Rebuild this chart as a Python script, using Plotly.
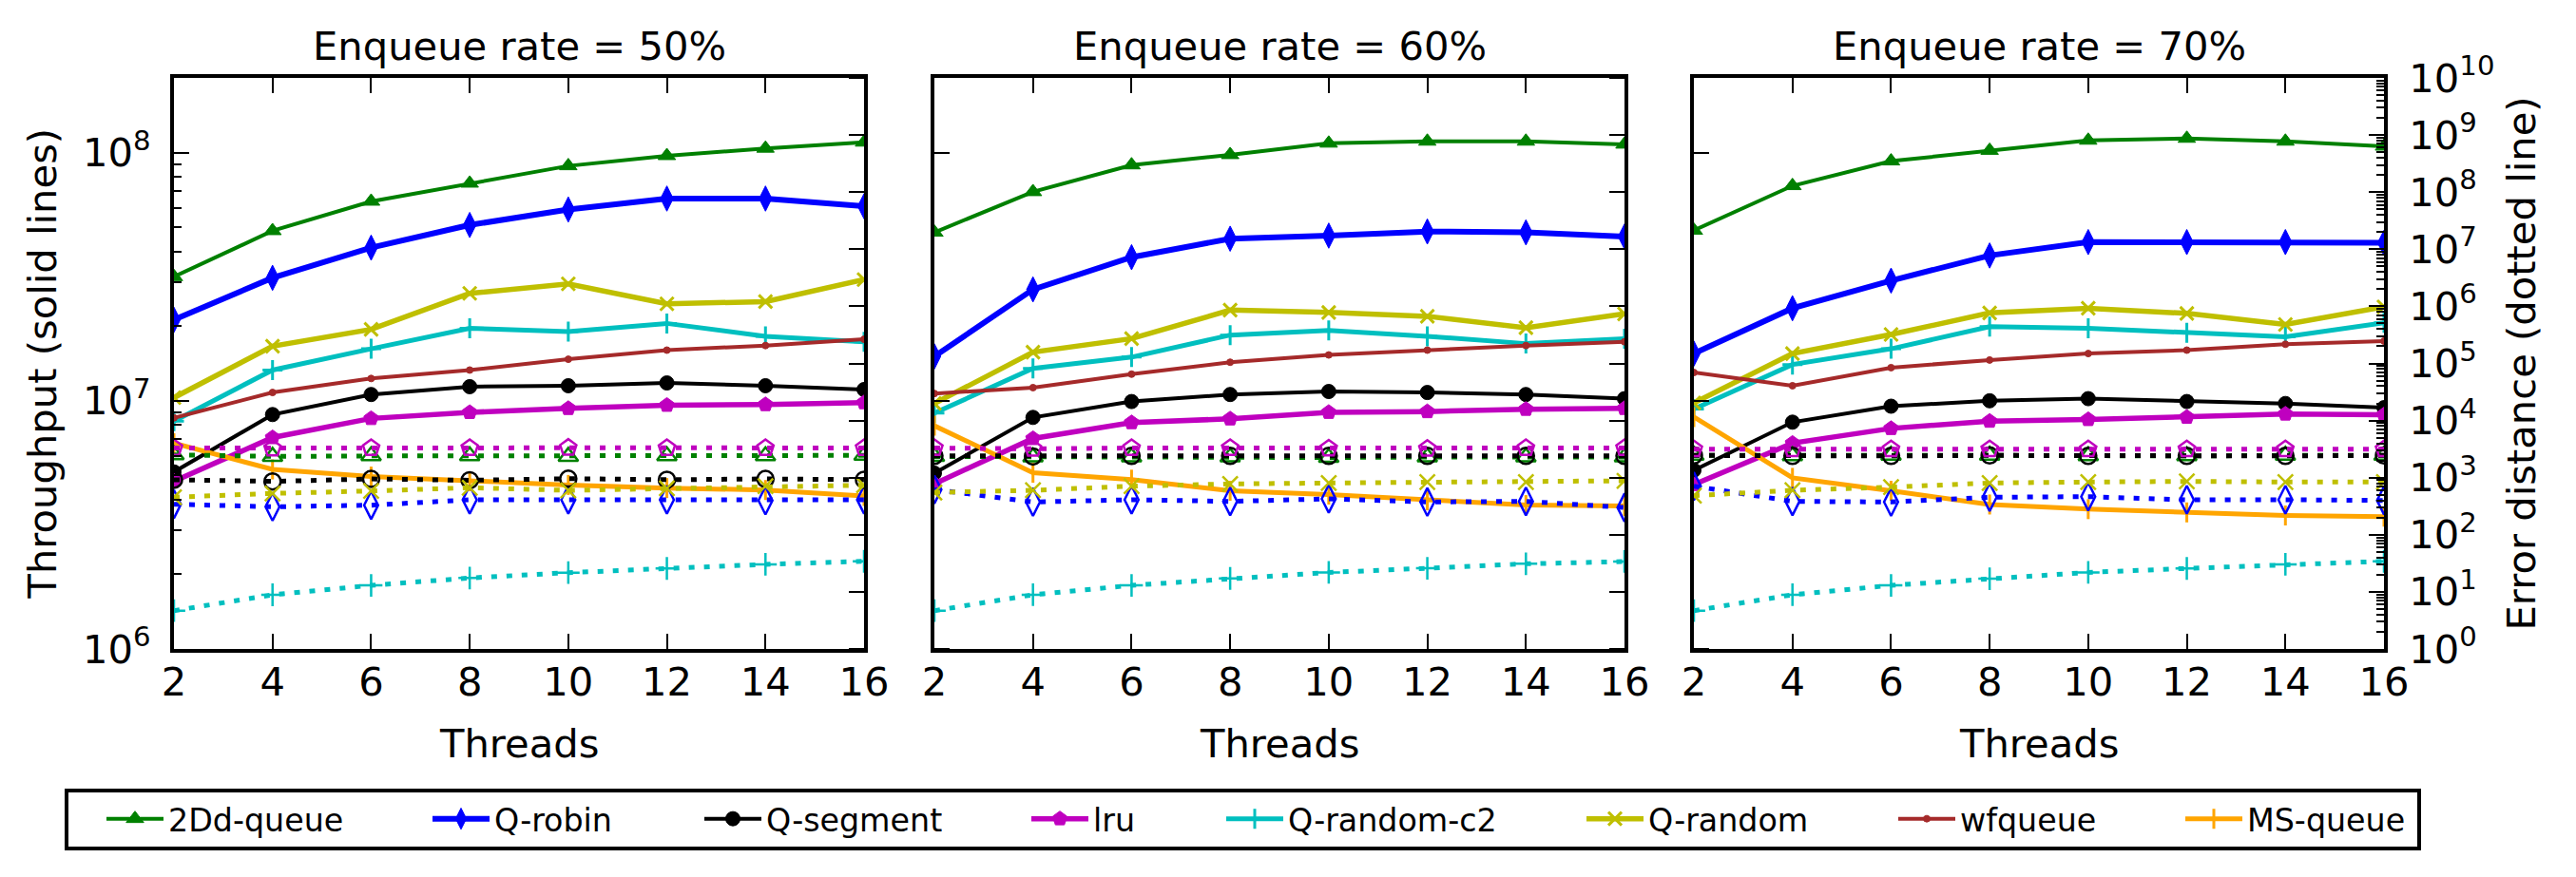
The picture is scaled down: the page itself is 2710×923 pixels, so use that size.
import math
import plotly.graph_objects as go

# ---------------- data ----------------
threads = [2, 4, 6, 8, 10, 12, 14, 16]
series_names = ["2Dd-queue", "Q-robin", "Q-segment", "lru",
                "Q-random-c2", "Q-random", "wfqueue", "MS-queue"]
panel_titles = ["Enqueue rate = 50%", "Enqueue rate = 60%", "Enqueue rate = 70%"]

# throughput (solid lines), enqueue rate 50%
tp50_2dd = [3.16e7, 4.84e7, 6.36e7, 7.52e7, 8.84e7, 9.71e7, 1.04e8, 1.10e8]
tp50_robin = [2.12e7, 3.13e7, 4.14e7, 5.11e7, 5.90e7, 6.53e7, 6.53e7, 6.08e7]
tp50_segment = [5.17e6, 8.80e6, 1.06e7, 1.14e7, 1.15e7, 1.18e7, 1.15e7, 1.11e7]
tp50_lru = [4.74e6, 7.11e6, 8.49e6, 8.98e6, 9.32e6, 9.60e6, 9.66e6, 9.83e6]
tp50_c2 = [8.28e6, 1.33e7, 1.62e7, 1.96e7, 1.90e7, 2.05e7, 1.82e7, 1.73e7]
tp50_random = [1.03e7, 1.66e7, 1.94e7, 2.71e7, 2.96e7, 2.46e7, 2.51e7, 3.08e7]
tp50_wf = [8.54e6, 1.08e7, 1.23e7, 1.33e7, 1.47e7, 1.60e7, 1.67e7, 1.77e7]
tp50_ms = [6.75e6, 5.29e6, 4.95e6, 4.74e6, 4.58e6, 4.45e6, 4.37e6, 4.13e6]

# throughput, enqueue rate 60%
tp60_2dd = [4.77e7, 6.95e7, 8.91e7, 9.80e7, 1.09e8, 1.11e8, 1.11e8, 1.08e8]
tp60_robin = [1.51e7, 2.81e7, 3.79e7, 4.50e7, 4.63e7, 4.81e7, 4.77e7, 4.59e7]
tp60_segment = [5.11e6, 8.57e6, 9.93e6, 1.06e7, 1.09e7, 1.08e7, 1.06e7, 1.02e7]
tp60_lru = [4.63e6, 7.05e6, 8.17e6, 8.46e6, 8.99e6, 9.05e6, 9.25e6, 9.32e6]
tp60_c2 = [8.92e6, 1.35e7, 1.50e7, 1.84e7, 1.92e7, 1.82e7, 1.70e7, 1.78e7]
tp60_random = [9.75e6, 1.57e7, 1.78e7, 2.32e7, 2.27e7, 2.19e7, 1.97e7, 2.24e7]
tp60_wf = [1.07e7, 1.13e7, 1.28e7, 1.43e7, 1.53e7, 1.60e7, 1.67e7, 1.73e7]
tp60_ms = [7.93e6, 5.13e6, 4.81e6, 4.34e6, 4.19e6, 3.97e6, 3.80e6, 3.77e6]

# throughput, enqueue rate 70%
tp70_2dd = [4.86e7, 7.35e7, 9.24e7, 1.02e8, 1.12e8, 1.14e8, 1.11e8, 1.06e8]
tp70_robin = [1.55e7, 2.36e7, 3.05e7, 3.85e7, 4.36e7, 4.36e7, 4.36e7, 4.33e7]
tp70_segment = [5.25e6, 8.20e6, 9.51e6, 1.00e7, 1.02e7, 9.93e6, 9.75e6, 9.38e6]
tp70_lru = [4.60e6, 6.75e6, 7.74e6, 8.28e6, 8.41e6, 8.59e6, 8.85e6, 8.79e6]
tp70_c2 = [9.27e6, 1.40e7, 1.62e7, 1.99e7, 1.96e7, 1.88e7, 1.81e7, 2.06e7]
tp70_random = [9.80e6, 1.55e7, 1.85e7, 2.26e7, 2.36e7, 2.25e7, 2.03e7, 2.39e7]
tp70_wf = [1.30e7, 1.15e7, 1.36e7, 1.46e7, 1.55e7, 1.60e7, 1.69e7, 1.74e7]
tp70_ms = [8.60e6, 4.89e6, 4.34e6, 3.82e6, 3.66e6, 3.55e6, 3.45e6, 3.41e6]

# error distance (dotted lines)
err50_2dd = [2500, 2350, 2400, 2400, 2350, 2400, 2400, 2450]
err50_robin = [343, 309, 329, 410, 410, 410, 398, 410]
err50_segment = [920, 860, 950, 900, 960, 920, 950, 920]
err50_lru = [3300, 3250, 3300, 3300, 3350, 3300, 3300, 3300]
err50_c2 = [4.69, 8.88, 13.0, 17.5, 21.7, 25.7, 30.3, 34.3]
err50_random = [454, 529, 585, 666, 600, 649, 708, 736]

err60_2dd = [2350, 2300, 2300, 2300, 2250, 2300, 2300, 2300]
err60_robin = [620, 375, 410, 384, 426, 375, 384, 300]
err60_segment = [2400, 2350, 2400, 2400, 2400, 2400, 2400, 2400]
err60_lru = [3300, 3200, 3300, 3300, 3250, 3200, 3300, 3300]
err60_c2 = [4.69, 8.9, 13.0, 17.2, 21.9, 25.9, 31.0, 34.0]
err60_random = [550, 601, 708, 776, 806, 838, 838, 881]

err70_2dd = [2450, 2400, 2450, 2450, 2400, 2400, 2450, 2450]
err70_robin = [708, 384, 375, 454, 465, 410, 410, 399]
err70_segment = [2450, 2400, 2400, 2450, 2400, 2400, 2400, 2450]
err70_lru = [3150, 3150, 3150, 3150, 3150, 3150, 3150, 3150]
err70_c2 = [4.69, 8.9, 13.0, 17.0, 21.9, 25.7, 30.3, 34.3]
err70_random = [483, 601, 682, 806, 838, 859, 838, 838]

left_tick_vals = [1e6, 1e7, 1e8]
left_tick_text = ["10<sup>6</sup>", "10<sup>7</sup>", "10<sup>8</sup>"]
right_tick_vals = [10 ** k for k in range(0, 11)]
right_tick_text = ["10<sup>%d</sup>" % k for k in range(0, 11)]

throughput = [
    [tp50_2dd, tp50_robin, tp50_segment, tp50_lru, tp50_c2, tp50_random, tp50_wf, tp50_ms],
    [tp60_2dd, tp60_robin, tp60_segment, tp60_lru, tp60_c2, tp60_random, tp60_wf, tp60_ms],
    [tp70_2dd, tp70_robin, tp70_segment, tp70_lru, tp70_c2, tp70_random, tp70_wf, tp70_ms],
]
errors = [
    [err50_2dd, err50_robin, err50_segment, err50_lru, err50_c2, err50_random, None, None],
    [err60_2dd, err60_robin, err60_segment, err60_lru, err60_c2, err60_random, None, None],
    [err70_2dd, err70_robin, err70_segment, err70_lru, err70_c2, err70_random, None, None],
]

# ---------------- styles ----------------
colors = ["#008000", "#0000FF", "#000000", "#BF00BF", "#00BFBF", "#BFBF00", "#A52A2A", "#FFA500"]
symbols = ["triangle-up", "diamond-tall", "circle", "pentagon", "cross-thin", "x-thin", "circle", "line-ns"]
open_symbols = ["triangle-up-open", "diamond-tall-open", "circle-open", "pentagon-open",
                "cross-thin", "x-thin", None, None]
msizes = [16, 19, 15, 16, 15, 14, 7, 15]
lwidths = [4, 6, 4, 5.5, 5, 5.5, 4, 5]
FONT = "DejaVu Sans"
FS = 41.67
LFS = 33.3

W, H = 2710, 923
panel_px = [(183, 909), (983, 1709), (1782, 2508)]
top_px, bot_px = 82, 683
LEFT_RANGE = [6, math.log10(2e8)]
RIGHT_RANGE = [0, 10]


def px(x):
    return x / W


def py(y):
    return 1 - y / H


left_minor = [k * 10 ** d for d in (6, 7, 8) for k in range(2, 10) if k * 10 ** d <= 2e8]
right_minor = [k * 10 ** d for d in range(0, 10) for k in range(2, 10)]

fig = go.Figure()

for p in range(3):
    xid = "x" if p == 0 else "x%d" % (p + 1)
    yl = "y" if p == 0 else "y%d" % (2 * p + 1)
    yr = "y%d" % (2 * p + 2)
    for k, name in enumerate(series_names):
        thin = symbols[k] in ("cross-thin", "x-thin", "line-ns")
        fig.add_trace(go.Scatter(
            x=threads, y=throughput[p][k], mode="lines+markers", name=name,
            xaxis=xid, yaxis=yl,
            line=dict(color=colors[k], width=lwidths[k]),
            marker=dict(symbol=symbols[k], size=msizes[k], color=colors[k],
                        line=dict(color=colors[k], width=3 if thin else 1)),
            showlegend=(p == 0),
            legend=("legend" if k == 0 else "legend%d" % (k + 1)),
        ))
        if errors[p][k] is not None:
            fig.add_trace(go.Scatter(
                x=threads, y=errors[p][k], mode="lines+markers", name=name + " error",
                xaxis=xid, yaxis=yr,
                line=dict(color=colors[k], width=5, dash="6px,10px"),
                marker=dict(symbol=open_symbols[k], size=msizes[k] + 2, color=colors[k],
                            line=dict(color=colors[k], width=2.5)),
                showlegend=False,
            ))

layout = dict(
    width=W, height=H, autosize=False,
    margin=dict(l=0, r=0, t=0, b=0, pad=0, autoexpand=False),
    paper_bgcolor="white", plot_bgcolor="white",
    font=dict(family=FONT, size=FS, color="black"),
    showlegend=True,
)

TICK = dict(ticks="inside", tickwidth=2, tickcolor="black")


def labelled_axis(rng, vals, text, minor_vals, standoff, **extra):
    d = dict(type="log", range=rng, tickmode="array", tickvals=vals, ticktext=text,
             ticklen=16, showticklabels=True, ticklabelstandoff=standoff,
             tickfont=dict(size=FS, family=FONT, color="black"),
             minor=dict(tickmode="array", tickvals=minor_vals, ticklen=8, showgrid=False, **TICK),
             showline=True, linewidth=4, linecolor="black", mirror=False,
             showgrid=False, zeroline=False, automargin=False, **TICK)
    d.update(extra)
    return d


def bare_axis(rng, minor_vals, minor_len, line, **extra):
    # axis without labels: ticks are drawn as minor ticks only
    d = dict(type="log", range=rng, tickmode="array", tickvals=[], showticklabels=False,
             minor=dict(tickmode="array", tickvals=minor_vals, ticklen=minor_len, showgrid=False, **TICK),
             showline=line, linewidth=4, linecolor="black", mirror=False,
             showgrid=False, zeroline=False, automargin=False, ticks="")
    d.update(extra)
    return d


extra_id = 7
for p in range(3):
    x0, x1 = panel_px[p]
    xkey = "xaxis" if p == 0 else "xaxis%d" % (p + 1)
    ylkey = "yaxis" if p == 0 else "yaxis%d" % (2 * p + 1)
    yrkey = "yaxis%d" % (2 * p + 2)
    yl = "y" if p == 0 else "y%d" % (2 * p + 1)
    xid = "x" if p == 0 else "x%d" % (p + 1)
    layout[xkey] = dict(
        domain=[px(x0), px(x1)], range=[2, 16], anchor=yl,
        tickmode="array", tickvals=threads, ticktext=[str(t) for t in threads],
        ticklen=16, showline=True, linewidth=4, linecolor="black", mirror="ticks",
        showgrid=False, zeroline=False, ticklabelstandoff=-5, automargin=False,
        tickfont=dict(size=FS, family=FONT, color="black"), **TICK,
    )
    dom = [py(bot_px), py(top_px)]
    # left (throughput) axis
    if p == 0:
        layout[ylkey] = labelled_axis(LEFT_RANGE, left_tick_vals, left_tick_text, left_minor, 12,
                                      domain=dom, anchor=xid, side="left")
    else:
        layout[ylkey] = bare_axis(LEFT_RANGE, left_tick_vals, 16, True,
                                  domain=dom, anchor=xid, side="left")
        layout["yaxis%d" % extra_id] = bare_axis(LEFT_RANGE, left_minor, 8, False,
                                                 overlaying=yl, anchor=xid, side="left")
        extra_id += 1
    # right (error distance) axis
    if p == 2:
        layout[yrkey] = labelled_axis(RIGHT_RANGE, right_tick_vals, right_tick_text, right_minor, 14,
                                      overlaying=yl, anchor=xid, side="right")
    else:
        layout[yrkey] = bare_axis(RIGHT_RANGE, right_tick_vals, 16, True,
                                  overlaying=yl, anchor=xid, side="right")
        layout["yaxis%d" % extra_id] = bare_axis(RIGHT_RANGE, right_minor, 8, False,
                                                 overlaying=yl, anchor=xid, side="right")
        extra_id += 1

# legends: one per series, positioned along a framed row
legend_text_px = [179, 522, 808, 1152, 1357, 1736, 2064, 2366]
for k in range(len(series_names)):
    key = "legend" if k == 0 else "legend%d" % (k + 1)
    layout[key] = dict(
        x=px(legend_text_px[k] - 72), y=py(862), xanchor="left", yanchor="middle",
        orientation="h", bgcolor="rgba(0,0,0,0)", borderwidth=0,
        itemwidth=60, font=dict(size=LFS, family=FONT, color="black"),
    )

annotations = []
for p in range(3):
    x0, x1 = panel_px[p]
    cx = (x0 + x1) / 2
    annotations.append(dict(text=panel_titles[p], x=px(cx), y=py(48.6), xref="paper", yref="paper",
                            xanchor="center", yanchor="middle", showarrow=False,
                            font=dict(size=FS, family=FONT, color="black")))
    annotations.append(dict(text="Threads", x=px(cx), y=py(782.6), xref="paper", yref="paper",
                            xanchor="center", yanchor="middle", showarrow=False,
                            font=dict(size=FS, family=FONT, color="black")))
annotations.append(dict(text="Throughput (solid lines)", x=px(44), y=py((top_px + bot_px) / 2),
                        xref="paper", yref="paper", xanchor="center", yanchor="middle",
                        textangle=-90, showarrow=False, font=dict(size=FS, family=FONT, color="black")))
annotations.append(dict(text="Error distance (dotted line)", x=px(2652), y=py((top_px + bot_px) / 2),
                        xref="paper", yref="paper", xanchor="center", yanchor="middle",
                        textangle=-90, showarrow=False, font=dict(size=FS, family=FONT, color="black")))
layout["annotations"] = annotations
layout["shapes"] = [dict(type="rect", xref="paper", yref="paper",
                         x0=px(70), x1=px(2545), y0=py(893), y1=py(832),
                         line=dict(color="black", width=4), fillcolor="rgba(0,0,0,0)")]

fig.update_layout(**layout)
fig.write_html("out.html")
